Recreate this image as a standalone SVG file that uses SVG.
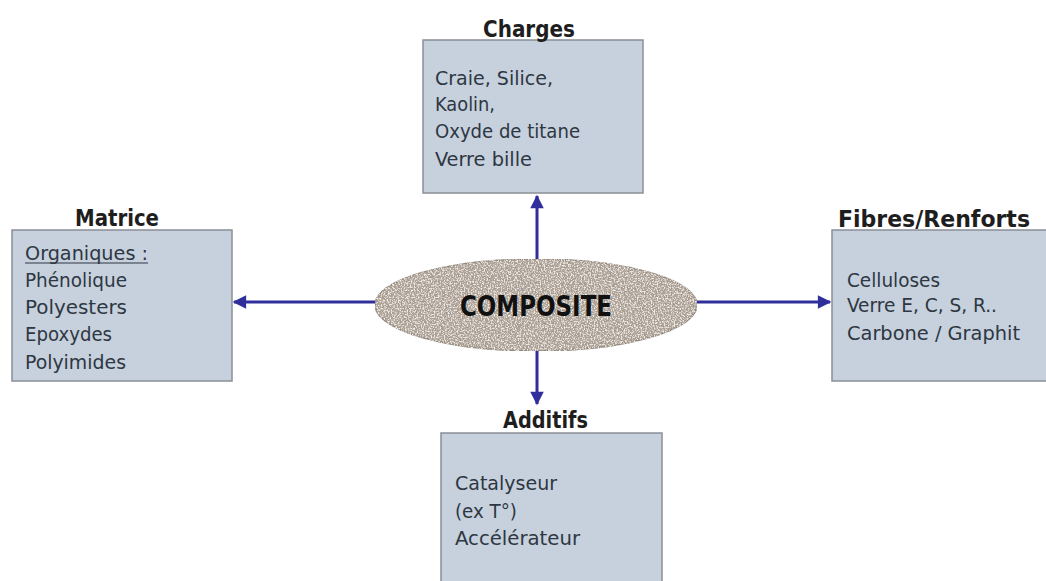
<svg xmlns="http://www.w3.org/2000/svg" width="1046" height="581" viewBox="0 0 1046 581">
<style>
.box{fill:#c6d1dd;stroke:#8a8f96;stroke-width:1.5}
.title{font-family:"DejaVu Sans Condensed","DejaVu Sans",sans-serif;font-weight:bold;font-size:23px;fill:#1e1e1e}
.body{font-family:"DejaVu Sans Condensed","DejaVu Sans",sans-serif;font-size:20px;fill:#2e3742}
.conn{stroke:#2f2f9c;stroke-width:3;fill:none}
.big{font-family:"DejaVu Sans Condensed","DejaVu Sans",sans-serif;font-weight:bold;font-size:28px;fill:#111}
</style>
<defs>
<marker id="ah" viewBox="0 0 10 10" refX="9" refY="5" markerWidth="5" markerHeight="4.5" orient="auto" markerUnits="strokeWidth">
<path d="M0,0 L10,5 L0,10 Z" fill="#2f2f9c"/>
</marker>
<filter id="grain" x="0" y="0" width="100%" height="100%">
<feTurbulence type="fractalNoise" baseFrequency="0.8" numOctaves="2" seed="3" result="n"/>
<feColorMatrix in="n" type="matrix" values="0 0 0 0 0.35  0 0 0 0 0.31  0 0 0 0 0.28  0 0 0 4 -1.7" result="d"/>
<feComposite in="d" in2="SourceGraphic" operator="in" result="dm"/>
<feTurbulence type="fractalNoise" baseFrequency="0.7" numOctaves="2" seed="9" result="n2"/>
<feColorMatrix in="n2" type="matrix" values="0 0 0 0 0.85  0 0 0 0 0.82  0 0 0 0 0.78  0 0 0 4 -1.8" result="l"/>
<feComposite in="l" in2="SourceGraphic" operator="in" result="lm"/>
<feMerge><feMergeNode in="SourceGraphic"/><feMergeNode in="dm"/><feMergeNode in="lm"/></feMerge>
</filter>
</defs>
<rect width="1046" height="581" fill="#ffffff"/>
<g id="connectors">
<line class="conn" x1="537" y1="259" x2="537" y2="196" marker-end="url(#ah)"/>
<line class="conn" x1="376" y1="302" x2="234" y2="302" marker-end="url(#ah)"/>
<line class="conn" x1="697" y1="302" x2="830" y2="302" marker-end="url(#ah)"/>
<line class="conn" x1="537" y1="350" x2="537" y2="404" marker-end="url(#ah)"/>
</g>
<g id="charges">
<rect class="box" x="423" y="40" width="220" height="153"/>
<text class="title" x="483" y="37" textLength="92" lengthAdjust="spacingAndGlyphs">Charges</text>
<text class="body" x="435" y="85" textLength="118" lengthAdjust="spacingAndGlyphs">Craie, Silice,</text>
<text class="body" x="435" y="111" textLength="60" lengthAdjust="spacingAndGlyphs">Kaolin,</text>
<text class="body" x="435" y="138" textLength="145" lengthAdjust="spacingAndGlyphs">Oxyde de titane</text>
<text class="body" x="435" y="166" textLength="97" lengthAdjust="spacingAndGlyphs">Verre bille</text>
</g>
<g id="matrice">
<rect class="box" x="12" y="230" width="220" height="151"/>
<text class="title" x="75" y="226" textLength="84" lengthAdjust="spacingAndGlyphs">Matrice</text>
<text class="body" x="25" y="260" textLength="123" lengthAdjust="spacingAndGlyphs">Organiques :</text>
<line x1="25" y1="263" x2="148" y2="263" stroke="#2e3742" stroke-width="1.2"/>
<text class="body" x="25" y="287" textLength="102" lengthAdjust="spacingAndGlyphs">Phénolique</text>
<text class="body" x="25" y="314" textLength="102" lengthAdjust="spacingAndGlyphs">Polyesters</text>
<text class="body" x="25" y="341" textLength="87" lengthAdjust="spacingAndGlyphs">Epoxydes</text>
<text class="body" x="25" y="369" textLength="101" lengthAdjust="spacingAndGlyphs">Polyimides</text>
</g>
<g id="fibres">
<rect class="box" x="832" y="230" width="216" height="151"/>
<text class="title" x="838" y="227" textLength="192" lengthAdjust="spacingAndGlyphs">Fibres/Renforts</text>
<text class="body" x="847" y="287" textLength="93" lengthAdjust="spacingAndGlyphs">Celluloses</text>
<text class="body" x="847" y="312" textLength="150" lengthAdjust="spacingAndGlyphs">Verre E, C, S, R..</text>
<text class="body" x="847" y="340" textLength="173" lengthAdjust="spacingAndGlyphs">Carbone / Graphit</text>
</g>
<g id="additifs">
<rect class="box" x="441" y="433" width="221" height="160"/>
<text class="title" x="503" y="428" textLength="85" lengthAdjust="spacingAndGlyphs">Additifs</text>
<text class="body" x="455" y="490" textLength="102" lengthAdjust="spacingAndGlyphs">Catalyseur</text>
<text class="body" x="455" y="518" textLength="62" lengthAdjust="spacingAndGlyphs">(ex T°)</text>
<text class="body" x="455" y="545" textLength="125" lengthAdjust="spacingAndGlyphs">Accélérateur</text>
</g>
<g id="composite">
<ellipse cx="536" cy="305" rx="161" ry="46" fill="#b3a597" stroke="#8e8276" stroke-width="1.5" filter="url(#grain)"/>
<text class="big" x="460" y="316" textLength="152" lengthAdjust="spacingAndGlyphs">COMPOSITE</text>
</g>
</svg>
